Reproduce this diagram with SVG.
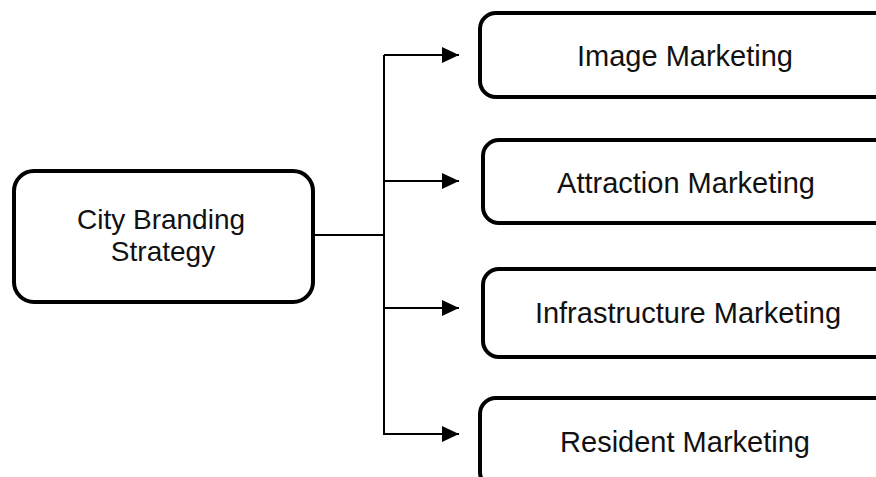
<svg xmlns="http://www.w3.org/2000/svg" width="876" height="477" viewBox="0 0 876 477">
  <style>
    .box { fill: #ffffff; stroke: #000000; stroke-width: 4; }
    .conn { fill: none; stroke: #000000; stroke-width: 2; }
    .lbl { font-family: "Liberation Sans", Arial, sans-serif; fill: #111111; text-anchor: middle; }
    .l28 { font-size: 28px; }
    .l29 { font-size: 29px; }
  </style>
  <defs>
    <marker id="arrow" viewBox="0 0 17 16" refX="17" refY="8" markerWidth="17" markerHeight="16" markerUnits="userSpaceOnUse" orient="auto">
      <path d="M0,0 L17,8 L0,16 Z" fill="#000000"/>
    </marker>
  </defs>
  <rect width="876" height="477" fill="#ffffff"/>

  <g id="connectors">
    <path class="conn" d="M313,235 H384"/>
    <path class="conn" d="M384,55 V435"/>
    <path class="conn" d="M384,55 H459" marker-end="url(#arrow)"/>
    <path class="conn" d="M384,181 H459" marker-end="url(#arrow)"/>
    <path class="conn" d="M384,308 H459" marker-end="url(#arrow)"/>
    <path class="conn" d="M383,434 H459" marker-end="url(#arrow)"/>
  </g>

  <g id="city-branding-strategy">
    <rect class="box" x="14" y="171" width="299" height="131" rx="20" ry="20"/>
    <text class="lbl l28" x="161" y="229">City Branding</text>
    <text class="lbl l28" x="163" y="261">Strategy</text>
  </g>

  <g id="image-marketing">
    <rect class="box" x="480" y="13" width="430" height="84" rx="16" ry="16"/>
    <text class="lbl l29" x="685" y="66">Image Marketing</text>
  </g>

  <g id="attraction-marketing">
    <rect class="box" x="483" y="140" width="430" height="83" rx="16" ry="16"/>
    <text class="lbl l29" x="686" y="193">Attraction Marketing</text>
  </g>

  <g id="infrastructure-marketing">
    <rect class="box" x="483" y="269" width="430" height="88" rx="16" ry="16"/>
    <text class="lbl l29" x="688" y="323">Infrastructure Marketing</text>
  </g>

  <g id="resident-marketing">
    <rect class="box" x="480" y="398" width="430" height="90" rx="16" ry="16"/>
    <text class="lbl l29" x="685" y="452">Resident Marketing</text>
  </g>
</svg>
